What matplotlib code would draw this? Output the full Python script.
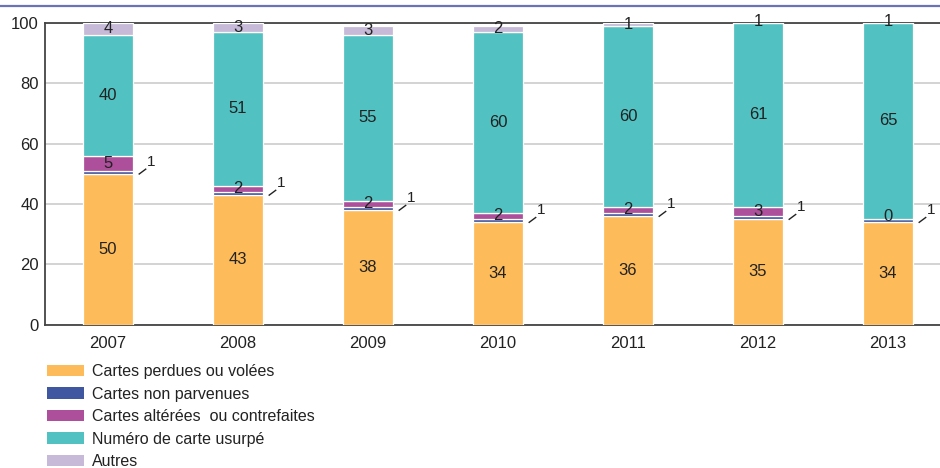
import matplotlib
matplotlib.use("Agg")
import matplotlib.pyplot as plt
from matplotlib.lines import Line2D
import numpy as np
from matplotlib import font_manager

names = {f.name for f in font_manager.fontManager.ttflist}
family = ["Liberation Sans Narrow", "DejaVu Sans"] if "Liberation Sans Narrow" in names else ["Liberation Sans", "DejaVu Sans"]
plt.rcParams["font.family"] = family

years = ["2007", "2008", "2009", "2010", "2011", "2012", "2013"]
perdues = [50, 43, 38, 34, 36, 35, 34]
non_parvenues = [1, 1, 1, 1, 1, 1, 1]
alterees = [5, 2, 2, 2, 2, 3, 0]
usurpe = [40, 51, 55, 60, 60, 61, 65]
autres = [4, 3, 3, 2, 1, 1, 1]

series = [
    ("Cartes perdues ou volées", perdues, "#FDBB59"),
    ("Cartes non parvenues", non_parvenues, "#3F56A0"),
    ("Cartes altérées  ou contrefaites", alterees, "#AD4F9A"),
    ("Numéro de carte usurpé", usurpe, "#52C1C2"),
    ("Autres", autres, "#C6BAD8"),
]

txt = "#222222"
fig = plt.figure(figsize=(9.4, 4.68), dpi=100)
ax = fig.add_axes([44.5 / 940, 1 - 324.7 / 468, 1 - 44.5 / 940, (324.7 - 22.7) / 468])

x = np.arange(len(years))
width = 0.39
bottom = np.zeros(len(years))
for name, vals, color in series:
    vals = np.array(vals, dtype=float)
    ax.bar(x, vals, width, bottom=bottom, color=color, edgecolor="white",
           linewidth=0.9, label=name, zorder=3)
    for i, v in enumerate(vals):
        if name == "Cartes non parvenues":
            yb = bottom[i] + v / 2
            x0 = x[i] + width / 2 + 0.045
            ax.add_line(Line2D([x0, x0 + 0.05], [yb - 0.6, yb + 1.0], color=txt,
                               linewidth=1.0, zorder=4))
            ax.text(x0 + 0.06, yb + 1.2, f"{int(v)}", ha="left", va="bottom",
                    fontsize=11, color=txt, zorder=4)
        else:
            yc = bottom[i] + v / 2
            if v < 1:
                yc = bottom[i] + 0.8
            ax.text(x[i], yc, f"{int(v)}", ha="center", va="center",
                    fontsize=12, color=txt, zorder=4)
    bottom += vals

ax.set_xlim(-63.5 / 130, -63.5 / 130 + 895.5 / 130)
ax.set_ylim(0, 100)
ax.set_yticks([0, 20, 40, 60, 80, 100])
ax.set_xticks(x)
ax.set_xticklabels(years)
ax.tick_params(axis="both", length=0, labelsize=12, colors=txt)
ax.tick_params(axis="y", pad=4)
ax.tick_params(axis="x", pad=8)
ax.yaxis.grid(True, color="#d0d0d0", linewidth=1.3, zorder=0)
ax.set_axisbelow(True)
for s in ["left", "bottom", "top"]:
    ax.spines[s].set_color("#444444")
    ax.spines[s].set_linewidth(1.3)
ax.spines["right"].set_visible(False)

fig.add_artist(Line2D([0, 1], [1 - 6 / 468, 1 - 6 / 468], color="#6A72B8",
                      linewidth=1.6, transform=fig.transFigure))

handles, labels = ax.get_legend_handles_labels()
leg = fig.legend(handles, labels, loc="upper left", bbox_to_anchor=(47 / 940, 1 - 364 / 468),
                 frameon=False, fontsize=11.5, handlelength=2.3, handleheight=0.7,
                 labelspacing=0.47, handletextpad=0.5, borderaxespad=0, borderpad=0)
for t in leg.get_texts():
    t.set_color(txt)
for p in leg.get_patches():
    p.set_edgecolor("none")

fig.savefig("out.png", dpi=100)
